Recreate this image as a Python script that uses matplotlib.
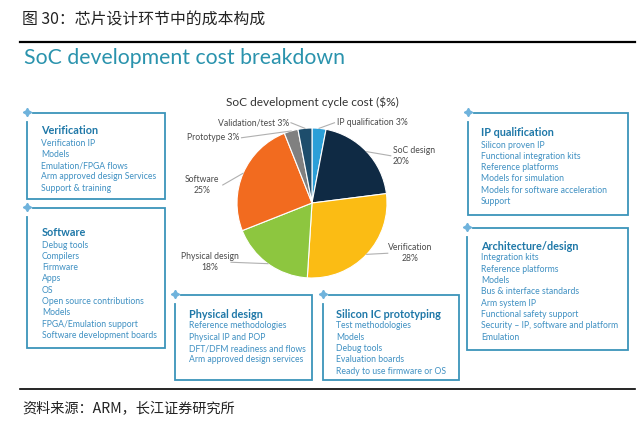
import matplotlib
matplotlib.use("Agg")
import matplotlib.pyplot as plt
import numpy as np

# pie data (clockwise from 12 o'clock)
segments = ['IP qualification', 'SoC design', 'Verification', 'Physical design',
            'Software', 'Prototype', 'Validation/test']
costs = [3, 20, 28, 18, 25, 3, 3]
seg_colors = ['#2b9fd8', '#0f2a44', '#fbbc14', '#8dc63f', '#f26b1f', '#808080', '#1d4d6c']
seg_labels = ['IP qualification 3%', 'SoC design\n20%', 'Verification\n28%',
              'Physical design\n18%', 'Software\n25%', 'Prototype 3%', 'Validation/test 3%']

# side boxes: titles and contents
box_titles = ['Verification', 'Software', 'Physical design', 'Silicon IC prototyping',
              'IP qualification', 'Architecture/design']
box_items = [
    ['Verification IP', 'Models', 'Emulation/FPGA flows', 'Arm approved design Services',
     'Support & training'],
    ['Debug tools', 'Compilers', 'Firmware', 'Apps', 'OS', 'Open source contributions',
     'Models', 'FPGA/Emulation support', 'Software development boards'],
    ['Reference methodologies', 'Physical IP and POP', 'DFT/DFM readiness and flows',
     'Arm approved design services'],
    ['Test methodologies', 'Models', 'Debug tools', 'Evaluation boards',
     'Ready to use firmware or OS'],
    ['Silicon proven IP', 'Functional integration kits', 'Reference platforms',
     'Models for simulation', 'Models for software acceleration', 'Support'],
    ['Integration kits', 'Reference platforms', 'Models', 'Bus & interface standards',
     'Arm system IP', 'Functional safety support', 'Security \u2013 IP, software and platform',
     'Emulation'],
]

# layout in pixels: left, right, top, bottom, title y, text x
box_layout = [
    (27, 165, 113, 199, 131, 41),
    (27, 165, 208, 348, 233, 42),
    (175, 312, 295, 380, 314, 189),
    (323, 459, 295, 380, 314, 336),
    (468, 628, 113, 215, 133, 481),
    (467, 628, 228, 350, 246, 481),
]
# label anchor (pie units) and alignment
label_pos = [(0.33, 1.07, 'left'), (1.08, 0.63, 'left'), (1.31, -0.67, 'center'),
             (-1.36, -0.79, 'center'), (-1.47, 0.24, 'center'), (-0.97, 0.87, 'right'),
             (-0.31, 1.07, 'right')]

W, H = 640, 434
fig = plt.figure(figsize=(W / 100, H / 100), dpi=100)
ax = fig.add_axes([0, 0, 1, 1])
ax.set_xlim(0, W)
ax.set_ylim(H, 0)
ax.axis('off')

cjk = ['Noto Sans CJK SC', 'DejaVu Sans']
en = ['Lato', 'DejaVu Sans']

ax.text(22, 20, '图 30：芯片设计环节中的成本构成', family=cjk, fontsize=11.4,
        color='#222222', va='center')
ax.plot([20, 635], [42, 42], color='black', lw=1.6)
ax.text(24, 57.5, 'SoC development cost breakdown', family=en, fontsize=15.3,
        color='#2a93ad', va='center')
ax.plot([20, 635], [389, 389], color='black', lw=1.2)
ax.text(22, 408, '资料来源：ARM，长江证券研究所', family=cjk, fontsize=10.2,
        color='#222222', va='center')

line_c = '#3b94ba'
for (l, r, t, b, ty, tx), title, items in zip(box_layout, box_titles, box_items):
    ax.plot([l + 6, r, r, l, l], [t, t, b, b, t + 9], color=line_c, lw=1.3,
            solid_joinstyle='miter')
    ax.plot(l, t - 1, marker=(4, 1, 0), ms=6, color='#6fb3dc')
    ax.text(tx, ty, title, family=en, fontsize=7.8, fontweight='bold',
            color='#1f78a8', va='center')
    for i, item in enumerate(items):
        ax.text(tx, ty + 12 + i * 11.3, item, family=en, fontsize=6.2,
                color='#3f90c2', va='center')

ax.text(312, 102, 'SoC development cycle cost ($%)', family=en, fontsize=8.6,
        color='#333333', ha='center', va='center')

# pie centered at (312, 203), radius 75 px
cx, cy, rad = 312, 203, 75
pax = fig.add_axes([(cx - rad) / W, (H - cy - rad) / H, 2 * rad / W, 2 * rad / H])
wedges, _ = pax.pie(costs, colors=seg_colors, startangle=90, counterclock=False,
                    wedgeprops=dict(edgecolor='white', linewidth=0.8))
pax.set_xlim(-1, 1)
pax.set_ylim(-1, 1)
pax.set_aspect('equal')

for w, lab, (lx, ly, ha) in zip(wedges, seg_labels, label_pos):
    ang = np.deg2rad((w.theta1 + w.theta2) / 2)
    ex, ey = np.cos(ang), np.sin(ang)
    if ha == 'left':
        sx = lx - 0.03
    elif ha == 'right':
        sx = lx + 0.03
    else:
        sx = lx + (0.28 if lx < 0 else -0.3)
    if abs(sx - ex) > 0.12:
        pax.plot([ex, sx], [ey, ly], color='#b0b0b0', lw=0.8, clip_on=False)
    pax.text(lx, ly, lab, family=en, fontsize=6.2, color='#4a4a4a', ha=ha,
             va='center', multialignment=ha, linespacing=1.35, clip_on=False)

fig.savefig('out.png', dpi=100)
